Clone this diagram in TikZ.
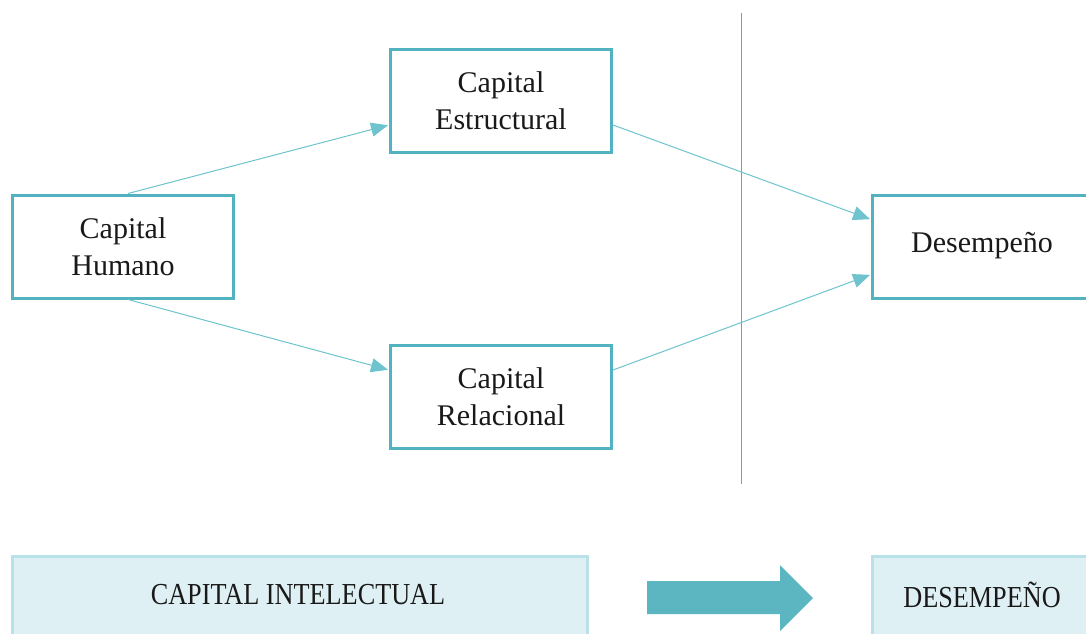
\documentclass[tikz,border=0pt]{standalone}
\usepackage{fontspec}
\setmainfont{Liberation Serif}
\newfontfamily\condfont[FakeStretch=0.86]{Liberation Serif}
\usetikzlibrary{arrows.meta}
\definecolor{teal1}{RGB}{82,178,192}
\definecolor{teal2}{RGB}{110,196,206}
\definecolor{lightfill}{RGB}{222,240,243}
\definecolor{lightborder}{RGB}{184,226,231}
\definecolor{bigarrow}{RGB}{92,182,193}
\definecolor{txt}{RGB}{25,25,25}
\tikzset{
  boxnode/.style={draw=teal1, line width=3pt, fill=white, minimum width=221pt, minimum height=103pt,
    align=center, text=txt, font=\fontsize{30}{37}\selectfont, inner sep=0pt},
  bottombox/.style={draw=lightborder, line width=2.5pt, fill=lightfill, inner sep=0pt},
  bottomtext/.style={text=txt, font=\condfont\fontsize{30.5}{34}\selectfont, inner sep=0pt},
  conn/.style={draw=teal2, line width=1pt, -{Triangle[length=17pt,width=14pt]}, shorten >=1pt}
}
\begin{document}
\begin{tikzpicture}[x=1pt,y=-1pt]
\useasboundingbox (0,0) rectangle (1086,633);
\clip (0,0) rectangle (1086,633);
\fill[white] (0,0) rectangle (1086,633);
% vertical divider
\coordinate (vt) at (741,13);
\coordinate (vb) at (741,484);
\draw[draw={rgb,255:red,150;green,150;blue,150}, line width=1pt] (vt) -- (vb);
% boxes
\node[boxnode] (hum) at (123,246.5) {Capital\\Humano};
\node[boxnode] (est) at (501,101) {Capital\\Estructural};
\node[boxnode] (rel) at (501,397) {Capital\\Relacional};
\node[boxnode, minimum width=240pt, anchor=west] (des) at (871,246.5) {};
\node[text=txt, font=\fontsize{30}{37}\selectfont, inner sep=0pt] (destext) at (982,246) {Desempeño};
% connectors
\draw[conn] ([xshift=5pt]hum.north) -- ([yshift=-24pt]est.west);
\draw[conn] ([xshift=5pt]hum.south) -- ([yshift=27pt]rel.west);
\draw[conn] ([yshift=-24pt]est.east) -- ([yshift=27pt]des.west);
\draw[conn] ([yshift=27pt]rel.east) -- ([yshift=-28pt]des.west);
% bottom row
\node[bottombox, minimum width=575pt, minimum height=100pt, anchor=north west] (ci) at (11,555) {};
\node[bottomtext] (citext) at (298,595) {CAPITAL INTELECTUAL};
\node[bottombox, minimum width=240pt, minimum height=100pt, anchor=north west] (db) at (871,555) {};
\node[bottomtext] (dbtext) at (982,595) {DESEMPEÑO};
% big arrow
\coordinate (a1) at (647,581);
\coordinate (a2) at (780,581);
\coordinate (a3) at (780,565);
\coordinate (a4) at (813,598);
\coordinate (a5) at (780,631);
\coordinate (a6) at (780,614);
\coordinate (a7) at (647,614);
\fill[bigarrow] (a1) -- (a2) -- (a3) -- (a4) -- (a5) -- (a6) -- (a7) -- cycle;
\end{tikzpicture}
\end{document}
